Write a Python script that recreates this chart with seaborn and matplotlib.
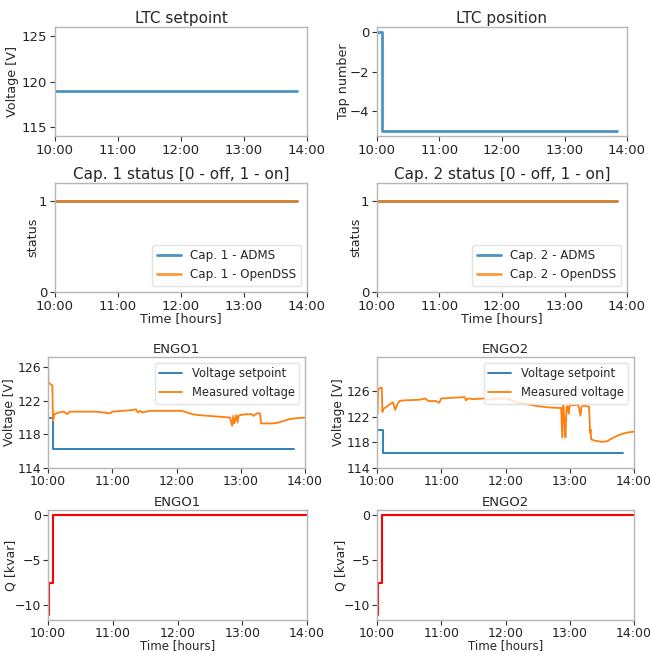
import numpy as np
import pandas as pd
import matplotlib
matplotlib.use('Agg')
import matplotlib.pyplot as plt
import matplotlib.dates as mdates
import seaborn as sns

# DATA (time in minutes after 10:00)
ltc_sp_t = [0, 230]
ltc_sp_v = [119, 119]

ltc_tap_t = [0, 5, 230]
ltc_tap = [0, -5, -5]

cap1_t = [0, 230]
cap1_adms = [1, 1]
cap1_opendss = [1, 1]

cap2_t = [0, 230]
cap2_adms = [1, 1]
cap2_opendss = [1, 1]

engo1_sp_t = [0, 5, 230]
engo1_sp = [120, 116.3, 116.3]
engo1_meas_t = [0, 0.4, 2, 4, 4.7, 6, 10, 15, 18, 20, 30, 45, 58, 60, 70, 80, 82, 84, 86, 88,
                95, 100, 120, 125, 130, 135, 140, 150, 160, 170, 172, 173, 174, 176, 177, 178,
                180, 185, 190, 192, 195, 198, 199, 205, 210, 215, 220, 225, 230, 240]
engo1_meas = [126.9, 124.2, 124.0, 123.8, 119.6, 120.4, 120.6, 120.7, 120.4, 120.7, 120.7, 120.7,
              120.5, 120.7, 120.8, 120.9, 121.0, 120.6, 120.8, 120.6,
              120.8, 120.8, 120.8, 120.8, 120.6, 120.4, 120.3, 120.2, 120.1, 120.0, 119.0, 120.2,
              119.3, 120.3, 119.4, 120.2,
              120.3, 120.4, 120.4, 120.2, 120.5, 120.5, 119.3, 119.3, 119.3, 119.4, 119.6, 119.8,
              119.9, 120.0]

engo2_sp_t = [0, 6, 230]
engo2_sp = [120, 116.3, 116.3]
engo2_meas_t = [0, 0.3, 1, 3, 4.5, 5, 6, 9, 12, 15, 17, 19, 21, 25, 40, 45, 48, 55, 58, 60, 70,
                80, 82, 83, 85, 90, 100, 105, 110, 120, 125, 130, 140, 150, 160, 172, 173, 174,
                175, 176, 177, 178, 179, 180, 188, 190, 191, 193, 198, 199, 199.5, 200, 203,
                210, 215, 220, 225, 230, 235, 240]
engo2_meas = [131.0, 122.4, 126.2, 126.6, 126.6, 122.8, 123.3, 123.6, 124.0, 124.3, 123.1, 124.0,
              124.5, 124.6, 124.7, 124.9, 124.5, 124.5, 124.2, 124.9, 125.0,
              125.1, 125.1, 124.6, 124.9, 124.8, 124.9, 124.7, 124.9, 124.9, 124.7, 124.3, 124.0,
              123.7, 123.5, 123.4, 118.8, 123.8,
              121.5, 118.8, 123.6, 123.7, 122.5, 123.8, 123.9, 122.2, 123.6, 123.8, 123.6, 119.5,
              120.0, 118.5, 118.3,
              118.1, 118.2, 118.7, 119.1, 119.4, 119.6, 119.7]

engo1_q_t = [0, 0.5, 5, 240]
engo1_q = [-11.1, -7.5, 0, 0]
engo2_q_t = [0, 0.5, 5, 240]
engo2_q = [-11.1, -7.5, 0, 0]

start = pd.Timestamp('2019-01-01 10:00')


def to_time(minutes):
    return start + pd.to_timedelta(np.array(minutes, dtype=float), unit='min')


sns.set_style('ticks')
plt.rcParams['font.family'] = ['DejaVu Sans']
plt.rcParams['axes.edgecolor'] = '#b5b5b5'
plt.rcParams['xtick.color'] = '#333333'
plt.rcParams['ytick.color'] = '#333333'
plt.rcParams['xtick.labelcolor'] = '#222222'
plt.rcParams['ytick.labelcolor'] = '#222222'

blue = '#1f77b4'
orange = '#ff7f0e'

fig = plt.figure(figsize=(6.5, 6.52), dpi=100)
W, H = 650.0, 652.0


def add_ax(x1, x2, yt, yb):
    return fig.add_axes([x1 / W, 1 - yb / H, (x2 - x1) / W, (yb - yt) / H])


def style_time(ax, tick_size=9.5, pad=2):
    ax.set_xlim(start, start + pd.Timedelta(minutes=240))
    ax.xaxis.set_major_locator(mdates.HourLocator())
    ax.xaxis.set_major_formatter(mdates.DateFormatter('%H:%M'))
    ax.tick_params(labelsize=tick_size, length=3.5, width=0.8, pad=pad)
    for s in ax.spines.values():
        s.set_visible(True)
        s.set_linewidth(1.0)


# ROW 1
ax1 = add_ax(55, 307, 27, 136)
sns.lineplot(x=to_time(ltc_sp_t), y=ltc_sp_v, ax=ax1, color=blue, lw=2, alpha=0.8)
ax1.set_ylim(114, 126)
ax1.set_yticks([115, 120, 125])
ax1.set_xlabel('')
ax1.set_ylabel('Voltage [V]', fontsize=9.2)
ax1.yaxis.set_label_coords(-0.143, 0.5)
ax1.set_title('LTC setpoint', fontsize=11, pad=3)
style_time(ax1)

ax2 = add_ax(377, 627, 27, 136)
sns.lineplot(x=to_time(ltc_tap_t), y=ltc_tap, ax=ax2, color=blue, lw=2, alpha=0.8,
             drawstyle='steps-post')
ax2.set_ylim(-5.25, 0.25)
ax2.set_yticks([-4, -2, 0])
ax2.set_xlabel('')
ax2.set_ylabel('Tap number', fontsize=9.2)
ax2.yaxis.set_label_coords(-0.108, 0.5)
ax2.set_title('LTC position', fontsize=11, pad=3)
style_time(ax2)

# ROW 2
for (x1, x2, t, adms, dss, n, lx) in [(55, 307, cap1_t, cap1_adms, cap1_opendss, 1, -0.063),
                                      (377, 627, cap2_t, cap2_adms, cap2_opendss, 2, -0.06)]:
    ax = add_ax(x1, x2, 183, 292)
    sns.lineplot(x=to_time(t), y=adms, ax=ax, color=blue, lw=2, alpha=0.8,
                 label='Cap. %d - ADMS' % n)
    sns.lineplot(x=to_time(t), y=dss, ax=ax, color=orange, lw=2, alpha=0.8,
                 label='Cap. %d - OpenDSS' % n)
    ax.set_ylim(0, 1.2)
    ax.set_yticks([0, 1])
    ax.set_ylabel('status', fontsize=9.2)
    ax.yaxis.set_label_coords(lx, 0.5)
    ax.set_xlabel('Time [hours]', fontsize=9.2)
    ax.xaxis.set_label_coords(0.5, -0.185)
    ax.set_title('Cap. %d status [0 - off, 1 - on]' % n, fontsize=11, pad=3)
    ax.legend(loc='lower right', fontsize=8.6, frameon=True, framealpha=0.8,
              edgecolor='#dddddd')
    style_time(ax)

# ROW 3
for (x1, x2, sp_t, sp, m_t, m, top, name, lx) in [
        (48, 305, engo1_sp_t, engo1_sp, engo1_meas_t, engo1_meas, 127.2, 'ENGO1', -0.125),
        (377, 634, engo2_sp_t, engo2_sp, engo2_meas_t, engo2_meas, 131.4, 'ENGO2', -0.125)]:
    ax = add_ax(x1, x2, 357, 468)
    sns.lineplot(x=to_time(sp_t), y=sp, ax=ax, color=blue, lw=1.3,
                 drawstyle='steps-post', label='Voltage setpoint')
    sns.lineplot(x=to_time(m_t), y=m, ax=ax, color=orange, lw=1.3,
                 label='Measured voltage')
    ax.set_ylim(114, top)
    ax.set_yticks([114, 118, 122, 126])
    ax.set_xlabel('')
    ax.set_ylabel('Voltage [V]', fontsize=8.8)
    ax.yaxis.set_label_coords(lx, 0.5)
    ax.set_title(name, fontsize=9.5, pad=3)
    ax.legend(loc='upper right', fontsize=8.3, frameon=True, framealpha=0.8,
              edgecolor='#dddddd')
    style_time(ax, tick_size=9, pad=1.5)

# ROW 4
for (x1, x2, q_t, q, name, lx) in [(48, 307, engo1_q_t, engo1_q, 'ENGO1', -0.116),
                                   (377, 634, engo2_q_t, engo2_q, 'ENGO2', -0.113)]:
    ax = add_ax(x1, x2, 510, 620)
    sns.lineplot(x=to_time(q_t), y=q, ax=ax, color='red', lw=1.5,
                 drawstyle='steps-post')
    ax.set_ylim(-11.65, 0.6)
    ax.set_yticks([-10, -5, 0])
    ax.set_ylabel('Q [kvar]', fontsize=9)
    ax.yaxis.set_label_coords(lx, 0.5)
    ax.set_xlabel('Time [hours]', fontsize=8.5)
    ax.xaxis.set_label_coords(0.5, -0.172)
    ax.set_title(name, fontsize=9.5, pad=3)
    style_time(ax, tick_size=9, pad=1.2)

plt.savefig('out.png', dpi=100)
plt.close()
